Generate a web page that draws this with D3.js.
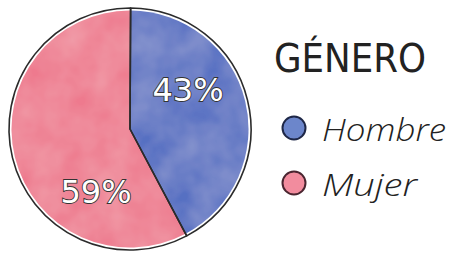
<!DOCTYPE html>
<html><head><meta charset="utf-8">
<script src="https://cdn.jsdelivr.net/npm/d3@7"></script>
<style>html,body{margin:0;padding:0;background:#fff;}</style>
</head><body>
<svg id="c" width="454" height="255"></svg>
<script>
const categories = ["Hombre", "Mujer"];
const values = [43, 59];
const labels = ["43%", "59%"];
const legendTitle = "GÉNERO";
const fills = ["#5670c2", "#ee7a8e"];
const legendFills = ["#6c86cb", "#f28c9e"];
const legendStrokes = ["#1e2747", "#4a2530"];

const svg = d3.select("#c");
const defs = svg.append("defs");
const f = defs.append("filter").attr("id","wc").attr("x","-5%").attr("y","-5%").attr("width","110%").attr("height","110%");
f.append("feTurbulence").attr("type","fractalNoise").attr("baseFrequency","0.03").attr("numOctaves",3).attr("seed",4).attr("result","n");
f.append("feColorMatrix").attr("in","n").attr("type","matrix")
 .attr("values","0 0 0 0 1  0 0 0 0 1  0 0 0 0 1  0 0 0 0.22 -0.04").attr("result","w");
f.append("feComposite").attr("in","w").attr("in2","SourceGraphic").attr("operator","in").attr("result","wi");
f.append("feMerge").selectAll("feMergeNode").data(["SourceGraphic","wi"]).enter().append("feMergeNode").attr("in",d=>d);

const cx = 130, cy = 129, R = 121;
const pie = d3.pie().sort(null).startAngle(0.005).endAngle(0.005 + 2*Math.PI);
const arcs = pie(values);
const arc = d3.arc().innerRadius(0).outerRadius(R);
const paintArc = d3.arc().innerRadius(0).outerRadius(R - 2.5);

const g = svg.append("g").attr("transform", `translate(${cx},${cy})`);
g.selectAll("path.paint").data(arcs).enter().append("path")
  .attr("class","paint").attr("d", paintArc).attr("fill", (d,i)=>fills[i])
  .attr("filter","url(#wc)");
g.selectAll("path.edge").data(arcs).enter().append("path")
  .attr("class","edge").attr("d", arc).attr("fill","none")
  .attr("stroke","#2b2b2b").attr("stroke-width",1.6).attr("stroke-linejoin","round");

const labelPos = [[58, -28], [-34, 74]];
g.selectAll("text.lab").data(arcs).enter().append("text")
  .attr("class","lab")
  .attr("x",(d,i)=>labelPos[i][0]).attr("y",(d,i)=>labelPos[i][1])
  .attr("text-anchor","middle")
  .attr("font-family","DejaVu Sans")
  .attr("font-size",32)
  .attr("fill","#fff").attr("stroke","#333").attr("stroke-width",1.8)
  .attr("paint-order","stroke")
  .text((d,i)=>labels[i]);

svg.append("text").attr("x",274).attr("y",72)
  .attr("font-family","DejaVu Sans Condensed, DejaVu Sans").attr("font-size",39)
  .attr("textLength",152).attr("lengthAdjust","spacingAndGlyphs")
  .attr("fill","#222").text(legendTitle);

const leg = svg.append("g");
const ys = [128, 183];
const widths = [124, 95];
categories.forEach((c,i)=>{
  leg.append("circle").attr("cx",294).attr("cy",ys[i]).attr("r",11.5)
    .attr("fill",legendFills[i]).attr("stroke",legendStrokes[i]).attr("stroke-width",2);
  leg.append("text").attr("x",322).attr("y",ys[i]+13)
    .attr("font-family","Open Sans").attr("font-style","italic").attr("font-weight",300)
    .attr("font-size",32).attr("textLength",widths[i]).attr("lengthAdjust","spacingAndGlyphs")
    .attr("fill","#222").text(c);
});
</script>
</body></html>
